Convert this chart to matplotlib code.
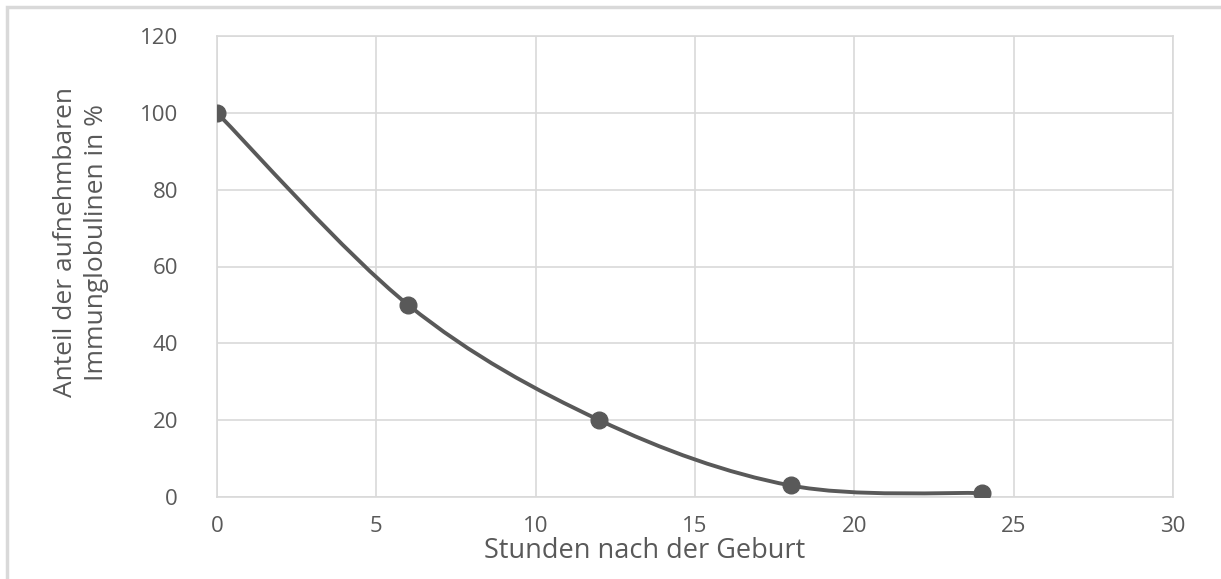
import numpy as np
import matplotlib.pyplot as plt
from matplotlib.path import Path
from matplotlib.patches import PathPatch, Rectangle

hours = [0, 6, 12, 18, 24]
share = [100, 50, 20, 3, 1]
xticks = [0, 5, 10, 15, 20, 25, 30]
yticks = [0, 20, 40, 60, 80, 100, 120]

grey = "#595959"
plt.rcParams["font.family"] = ["Open Sans", "DejaVu Sans"]


def smooth_path(xs, ys):
    # Excel-like smoothed line: Catmull-Rom as cubic Bezier segments
    pts = np.column_stack([xs, ys]).astype(float)
    verts = [pts[0]]
    codes = [Path.MOVETO]
    n = len(pts)
    for i in range(n - 1):
        p0 = pts[max(i - 1, 0)]
        p1 = pts[i]
        p2 = pts[i + 1]
        p3 = pts[min(i + 2, n - 1)]
        c1 = p1 + (p2 - p0) / 6
        c2 = p2 - (p3 - p1) / 6
        verts += [c1, c2, p2]
        codes += [Path.CURVE4] * 3
    return Path(verts, codes)


fig = plt.figure(figsize=(12.21, 5.79), dpi=100)
# outer chart border (only top and left visible in the crop)
fig.patches.append(Rectangle((7 / 1221, -0.05), 1.1, 1 - 7 / 579 + 0.05,
                             transform=fig.transFigure, fill=False,
                             edgecolor="#d9d9d9", linewidth=2.5))
ax = fig.add_axes([217 / 1221, 82 / 579, 956 / 1221, 461 / 579])

ax.add_patch(PathPatch(smooth_path(hours, share), facecolor="none",
                       edgecolor=grey, linewidth=2.8, zorder=3))
ax.plot(hours, share, linestyle="none", marker="o", markersize=12,
        color=grey, zorder=4)

ax.set_xlim(0, 30)
ax.set_ylim(0, 120)
ax.set_xticks(xticks)
ax.set_yticks(yticks)
ax.grid(True, color="#d9d9d9", linewidth=1.2)
ax.set_axisbelow(True)
for s in ax.spines.values():
    s.set_color("#d9d9d9")
    s.set_linewidth(1.2)
ax.tick_params(length=0, colors=grey, labelsize=16)
ax.tick_params(axis="x", pad=14)
ax.tick_params(axis="y", pad=28)

ax.set_xlabel("Stunden nach der Geburt", fontsize=19.5, color=grey, va="center")
ax.xaxis.set_label_coords(0.4477, -0.117)
ax.set_ylabel("Anteil der aufnehmbaren\nImmunglobulinen in %", fontsize=19,
              color=grey, linespacing=1.3, va="center", ha="center",
              family=["Liberation Sans Narrow", "Open Sans", "DejaVu Sans"])
ax.yaxis.set_label_coords(-0.142, 0.553)

fig.savefig("out.png", dpi=100)
